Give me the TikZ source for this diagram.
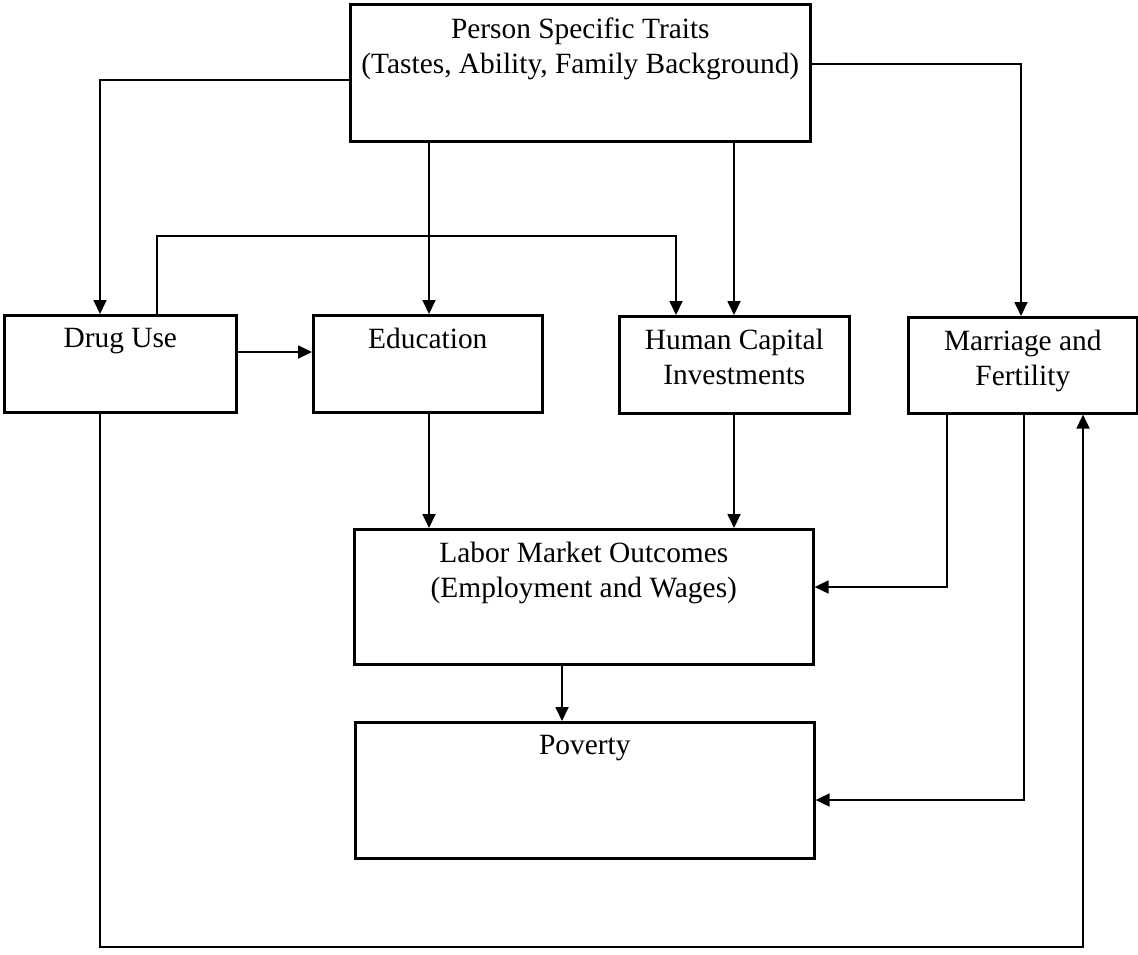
\documentclass[tikz,border=0pt]{standalone}
\usepackage{fontspec}
\setmainfont{Liberation Serif}
\usetikzlibrary{arrows.meta}

\tikzset{
	box/.style={draw, line width=1.3pt, inner sep=0pt, anchor=north west},
	boxtext/.style={anchor=north, align=center, inner sep=0pt, font=\fontsize{14.7}{17.5}\selectfont},
	arr/.style={-{Triangle[length=7pt,width=6.5pt]}, line width=0.9pt}
}

\begin{document}
\begin{tikzpicture}[x=0.5pt,y=-0.5pt]
	\useasboundingbox (0,0) rectangle (1138,954);

	\node[box, minimum width=230pt, minimum height=68.5pt] (traits) at (349,3) {};
	\node[box, minimum width=116pt, minimum height=48.5pt] (drug) at (3,314) {};
	\node[box, minimum width=114.5pt, minimum height=48.5pt] (edu) at (312,314) {};
	\node[box, minimum width=115pt, minimum height=48.5pt] (hc) at (618,315) {};
	\node[box, minimum width=114.5pt, minimum height=48pt] (marr) at (907,316) {};
	\node[box, minimum width=229.5pt, minimum height=67.5pt] (labor) at (353,528) {};
	\node[box, minimum width=229.5pt, minimum height=68pt] (pov) at (354,721) {};

	\node[boxtext] (traitstext) at ([yshift=-7pt]traits.north) {Person Specific Traits\\(Tastes, Ability, Family Background)};
	\node[boxtext] (drugtext) at ([yshift=-7pt]drug.north) {Drug Use};
	\node[boxtext] (edutext) at ([yshift=-7pt]edu.north) {Education};
	\node[boxtext] (hctext) at ([yshift=-7pt]hc.north) {Human Capital\\Investments};
	\node[boxtext] (marrtext) at ([yshift=-7pt]marr.north) {Marriage and\\Fertility};
	\node[boxtext] (labortext) at ([yshift=-7pt]labor.north) {Labor Market Outcomes\\(Employment and Wages)};
	\node[boxtext] (povtext) at ([yshift=-7pt]pov.north) {Poverty};

	\draw[arr] (traits.west |- 0,80) -| (drug.north -| 100,0);
	\draw[arr] (traits.south -| 429,0) -- (edu.north -| 429,0);
	\draw[arr] (traits.south -| 734,0) -- (hc.north -| 734,0);
	\draw[arr] (traits.east |- 0,64) -| (marr.north -| 1021,0);
	\draw[arr] (drug.north -| 157,0) -- (157,236) -| (hc.north -| 676,0);
	\draw[arr] (drug.east |- 0,352) -- (edu.west |- 0,352);
	\draw[arr] (edu.south -| 429,0) -- (labor.north -| 429,0);
	\draw[arr] (hc.south -| 734,0) -- (labor.north -| 734,0);
	\draw[arr] (marr.south -| 947,0) |- (labor.east |- 0,587);
	\draw[arr] (marr.south -| 1024,0) |- (pov.east |- 0,800);
	\draw[arr] (labor.south -| 562,0) -- (pov.north -| 562,0);
	\draw[arr] (drug.south -| 100,0) -- (100,947) -| (marr.south -| 1083,0);
\end{tikzpicture}
\end{document}
